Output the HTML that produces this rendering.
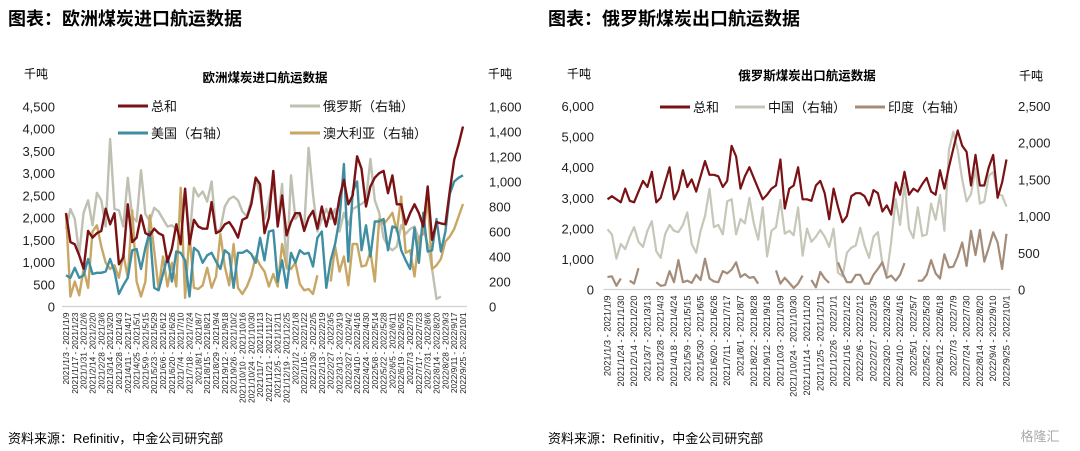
<!DOCTYPE html>
<html><head><meta charset="utf-8">
<style>
body{margin:0;background:#fff;width:1080px;height:451px;overflow:hidden;font-family:"Liberation Sans","Noto Sans CJK SC",sans-serif;}
svg{position:absolute;left:0;top:0}
</style></head>
<body>
<svg id="c" width="1080" height="451" font-family="Liberation Sans, Noto Sans CJK SC, sans-serif">
<text x="8" y="25" font-size="18" font-weight="bold" fill="#000">图表：欧洲煤炭进口航运数据</text>
<text x="548" y="25" font-size="18" font-weight="bold" fill="#000">图表：俄罗斯煤炭出口航运数据</text>
<text x="265" y="82" font-size="12.5" font-weight="bold" text-anchor="middle">欧洲煤炭进口航运数据</text>
<text x="807" y="80" font-size="12.5" font-weight="bold" text-anchor="middle">俄罗斯煤炭出口航运数据</text>
<text x="24" y="78" font-size="12">千吨</text>
<text x="488" y="78" font-size="12">千吨</text>
<text x="567" y="78" font-size="12">千吨</text>
<text x="1019" y="80" font-size="12">千吨</text>
<text x="8" y="443" font-size="13">资料来源：Refinitiv，中金公司研究部</text>
<text x="548" y="443" font-size="13">资料来源：Refinitiv，中金公司研究部</text>
<text x="1040" y="441" font-size="13" fill="#aaa" text-anchor="middle">格隆汇</text>
</svg>
<script>
const euTotal=[2100,1450,1400,1150,850,1700,1550,1650,1700,2200,1850,2100,950,1100,2300,1450,1550,2050,1650,1600,1750,1650,1600,1000,1300,1850,1400,2650,1400,1950,1800,1750,1750,2350,1650,1700,1850,1900,1750,1550,1950,2000,2300,2900,2750,1650,2000,3050,1800,2500,1600,1900,2100,2100,1700,2000,2150,1750,2250,1800,2200,1850,2450,2850,2300,2500,3380,3100,2250,2700,2900,3000,3050,2550,2950,2300,2300,1850,2100,2300,2100,1800,2700,1500,1900,1870,1850,2600,3300,3650,4050];
const euRussia=[620,780,700,420,750,850,650,910,850,640,1340,780,770,640,1030,720,680,1090,740,680,790,760,700,640,650,620,700,940,550,950,880,920,840,1000,600,620,800,860,880,850,760,720,850,1030,900,700,850,1000,650,980,300,1050,700,750,620,1270,900,600,700,780,700,780,600,750,650,780,800,820,850,1180,850,750,550,480,450,480,650,580,620,640,540,620,500,300,60,80,null,null,null,null,null];
const euUSA=[250,230,310,230,250,380,260,270,270,280,380,280,100,170,230,450,460,300,470,600,150,130,260,400,200,440,430,370,80,470,440,350,410,430,360,300,450,420,150,430,430,450,420,350,550,370,600,610,200,370,150,430,350,450,420,430,320,550,600,150,370,500,700,1140,360,920,1000,450,650,400,680,680,700,450,640,630,450,370,300,630,350,750,440,450,700,440,600,900,1000,1030,1050];
const euAus=[750,80,200,90,300,150,600,650,480,350,300,330,230,420,230,770,200,80,200,730,450,140,400,160,350,160,950,70,580,150,140,170,310,150,240,580,320,170,500,150,100,160,250,400,330,280,160,260,160,500,320,300,350,180,130,140,100,250,null,null,200,480,280,400,170,500,500,320,330,440,200,700,660,700,750,600,880,430,450,240,550,580,870,300,330,380,520,560,620,720,820];
const ruTotal=[2950,3050,2950,2850,3300,2900,2850,3200,3550,3350,3850,2850,3000,3500,4000,2950,3250,3900,3350,3600,3200,3700,4200,3750,3750,3700,3350,3550,4700,4350,3300,3700,4000,3650,3300,2950,3100,3300,3400,4250,2650,3300,3400,4000,2950,2950,2900,3400,3550,3150,2300,3300,2700,2200,2400,3050,3150,3150,3050,2750,3250,3150,2550,2750,2450,3500,3100,3850,3100,3300,3200,3450,3650,3200,3100,3900,3300,4000,4600,5200,4700,4500,3400,4400,3400,3400,4000,4400,3000,3500,4250];
const ruChina=[820,750,420,620,550,720,850,650,580,800,930,520,430,750,880,800,780,880,1050,620,500,800,1000,1370,850,880,750,1200,1230,750,960,900,1250,900,680,1120,450,800,850,1220,760,800,740,1120,460,830,650,720,810,720,580,830,230,180,500,570,600,840,600,430,720,780,350,200,650,1230,880,1450,830,700,1120,730,750,1170,950,1290,800,1900,2150,1900,1500,1200,1300,1650,1170,1200,1550,1600,1300,1280,1130];
const ruIndia=[170,180,50,150,null,120,80,290,null,null,null,100,50,60,250,100,400,100,120,90,200,130,420,150,110,100,250,220,270,370,170,210,160,170,80,null,null,null,260,80,160,90,20,80,190,null,130,30,240,150,90,null,370,220,100,100,200,200,80,80,200,280,370,160,190,120,200,360,null,null,120,120,200,400,220,150,480,300,310,450,640,320,800,470,810,380,570,780,640,280,760];
const euLeftTicks=[0,500,1000,1500,2000,2500,3000,3500,4000,4500];
const euRightTicks=[0,200,400,600,800,1000,1200,1400,1600];
const ruLeftTicks=[0,1000,2000,3000,4000,5000,6000];
const ruRightTicks=[0,500,1000,1500,2000,2500];
const weekLabels=[];
(function(){let d=new Date(Date.UTC(2021,0,9));for(let i=0;i<91;i++){const s=new Date(d.getTime()-6*864e5);const f=x=>x.getUTCFullYear()+'/'+(x.getUTCMonth()+1)+'/'+x.getUTCDate();weekLabels.push(f(s)+' - '+f(d));d=new Date(d.getTime()+7*864e5);}})();

const NS='http://www.w3.org/2000/svg';
const svg=document.getElementById('c');
function mk(t,a){const e=document.createElementNS(NS,t);for(const k in a)e.setAttribute(k,a[k]);svg.appendChild(e);return e;}
function fmt(v){return v.toLocaleString('en-US');}

function drawChart(cfg){
  const xs=i=>cfg.x0+(cfg.x1-cfg.x0)*i/(weekLabels.length-1);
  const yl=v=>cfg.y0-(cfg.y0-cfg.yTop)*v/cfg.lMax;
  const yr=v=>cfg.y0-(cfg.y0-cfg.yTop)*v/cfg.rMax;
  const ax=mk('line',{x1:cfg.x0-4,x2:cfg.x1+4,y1:cfg.y0,y2:cfg.y0,stroke:'#d0d0d0','stroke-width':1.2});
  
  
  cfg.lTicks.forEach(v=>{const t=mk('text',{x:cfg.lx,y:yl(v)+5,'font-size':13,'text-anchor':'end',fill:'#222'});t.textContent=fmt(v);
    
    });
  cfg.rTicks.forEach(v=>{const t=mk('text',{x:cfg.rx,y:yr(v)+5,'font-size':13,'text-anchor':'start',fill:'#222'});t.textContent=fmt(v);
    
    });
  for(let i=0;i<weekLabels.length;i+=cfg.step){const x=xs(i)+3;const t=mk('text',{x:x,y:cfg.y0+6,'font-size':cfg.lf,'text-anchor':'end',fill:'#222',transform:`rotate(-90 ${x} ${cfg.y0+6})`});t.textContent=weekLabels[i];
    
    }
  cfg.series.forEach(s=>{const yf=s.right?yr:yl;let d='',pen=false;s.data.forEach((v,i)=>{if(v==null){pen=false;return;}d+=(pen?'L':'M')+xs(i).toFixed(1)+' '+yf(v).toFixed(1);pen=true;});
    const p=mk('path',{d:d,fill:'none',stroke:s.color,'stroke-width':cfg.sw,'stroke-linejoin':'round'});
    
    });
}
function legend(x,y,color,label,name){
  const l=mk('line',{x1:x,x2:x+30,y1:y,y2:y,stroke:color,'stroke-width':3});
  
  
  const t=mk('text',{x:x+33,y:y+5,'font-size':13,fill:'#111'});t.textContent=label;
  
  
}
const cT='#7a1114',cRu='#bfc0b2',cUS='#3f8ea2',cAu='#c8a765',cCN='#c6c7b9',cIN='#a48c7a';
drawChart({p:'eu',x0:66,x1:463,y0:306.5,yTop:106.5,lMax:4500,rMax:1600,lx:55,rx:489,lTicks:euLeftTicks,rTicks:euRightTicks,step:2,sw:2.4,lf:8.3,
 series:[{data:euRussia,right:true,color:cRu,name:'eu-russia-line'},{data:euAus,right:true,color:cAu,name:'eu-australia-line'},{data:euUSA,right:true,color:cUS,name:'eu-usa-line'},{data:euTotal,right:false,color:cT,name:'eu-total-line'}]});
drawChart({p:'ru',x0:607.5,x1:1006.5,y0:289.5,yTop:106,lMax:6000,rMax:2500,lx:594,rx:1018,lTicks:ruLeftTicks,rTicks:ruRightTicks,step:3,sw:2.2,lf:9.3,
 series:[{data:ruChina,right:true,color:cCN,name:'ru-china-line'},{data:ruIndia,right:true,color:cIN,name:'ru-india-line'},{data:ruTotal,right:false,color:cT,name:'ru-total-line'}]});
legend(118,106,cT,'总和','eu-legend-total');
legend(290,106,cRu,'俄罗斯（右轴）','eu-legend-russia');
legend(118,133,cUS,'美国（右轴）','eu-legend-usa');
legend(290,133,cAu,'澳大利亚（右轴）','eu-legend-australia');
legend(660,107,cT,'总和','ru-legend-total');
legend(735,107,cCN,'中国（右轴）','ru-legend-china');
legend(855,107,cIN,'印度（右轴）','ru-legend-india');
</script>
</body></html>
